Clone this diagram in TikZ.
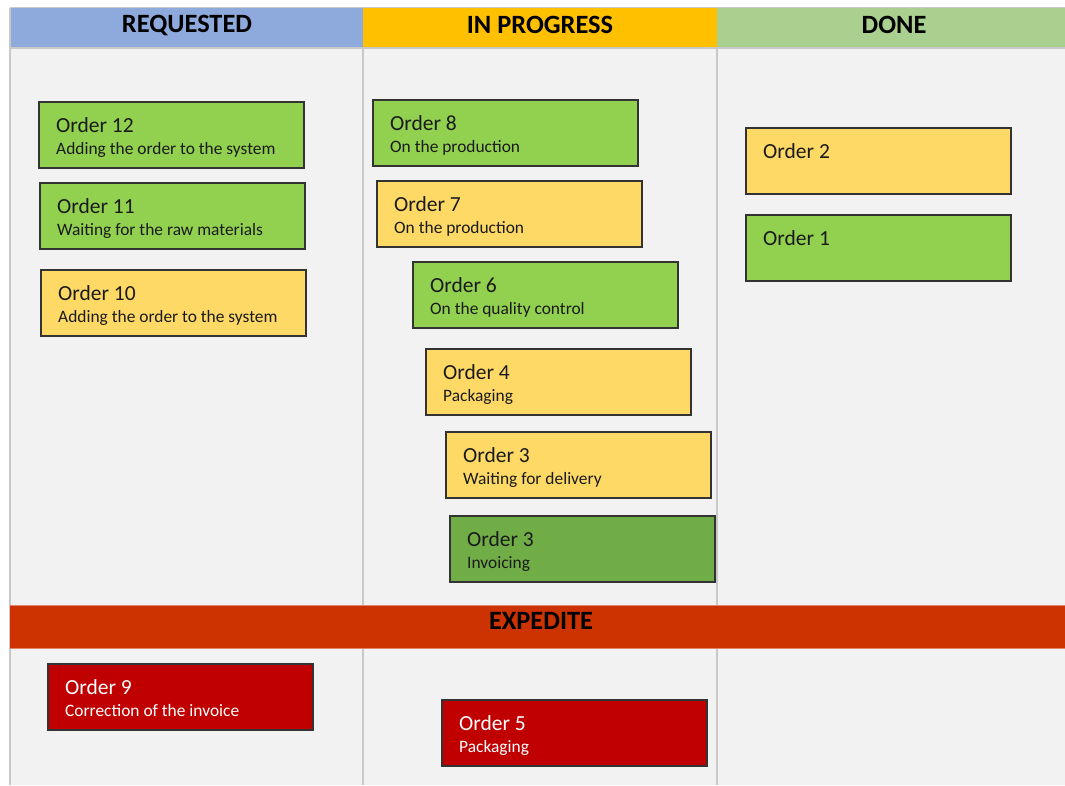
\documentclass[tikz,border=0pt]{standalone}
\usepackage{fontspec}
\setmainfont{Carlito}
\definecolor{panel}{HTML}{F2F2F2}
\definecolor{gridl}{HTML}{C8C8C8}
\definecolor{hblue}{HTML}{8EA9DB}
\definecolor{hyellow}{HTML}{FFC000}
\definecolor{hgreen}{HTML}{A9D08E}
\definecolor{hred}{HTML}{CC3300}
\definecolor{cgreen}{HTML}{92D050}
\definecolor{cdgreen}{HTML}{70AD47}
\definecolor{cyellow}{HTML}{FFD966}
\definecolor{cred}{HTML}{C00000}
\definecolor{cborder}{HTML}{333333}
\definecolor{ctext}{HTML}{1A1A1A}
\tikzset{
  cardbox/.style={draw=cborder, line width=1.1pt, rectangle, anchor=north west,
    minimum width=265pt, minimum height=66pt, inner sep=0pt, outer sep=0pt},
  cardtitle/.style={anchor=base west, inner sep=0pt, font=\fontsize{21.5}{23}\selectfont},
  cardsub/.style={anchor=base west, inner sep=0pt, font=\fontsize{17.4}{19}\selectfont},
  headtext/.style={font=\bfseries\fontsize{26.4}{28}\selectfont, inner sep=0pt},
  gridline/.style={draw=gridl, line width=1.2pt},
}
\newcommand{\mycard}[7]{%
  \node[cardbox, fill=#4] (#1) at (#2,#3) {};
  \node[cardtitle, text=#5] (#1t) at ($(#1.north west)+(17,30)$) {#6};
  \node[cardsub, text=#5] (#1s) at ($(#1.north west)+(17,52)$) {#7};
}
\usetikzlibrary{calc}
\begin{document}
\begin{tikzpicture}[x=1pt,y=-1pt]
\useasboundingbox (0,0) rectangle (1065,785);
\fill[white] (0,0) rectangle (1065,785);
% panel
\fill[panel] (10,8) rectangle (1065,785);
% headers
\fill[hblue] (10,8) rectangle (363,48);
\fill[hyellow] (363,8) rectangle (717,48);
\fill[hgreen] (717,8) rectangle (1065,48);
\draw[gridline] (10,7.5) -- (1065,7.5);
\draw[gridline] (10,48) -- (1065,48);
\draw[gridline] (10,7.5) -- (10,785);
\draw[gridline] (363,48) -- (363,785);
\draw[gridline] (717,48) -- (717,785);
% expedite bar
\fill[hred] (10,605) rectangle (1065,648);
\draw[draw=hred!60!white, line width=0.8pt] (10,605) -- (1065,605);
\draw[draw=hred!60!white, line width=0.8pt] (10,648) -- (1065,648);
\node[headtext] (hreq) at (187,25) {REQUESTED};
\node[headtext] (hprog) at (540,25) {IN PROGRESS};
\node[headtext] (hdone) at (894,25) {DONE};
\node[headtext] (hexp) at (541,621) {EXPEDITE};
% requested
\mycard{o12}{39}{102}{cgreen}{ctext}{Order 12}{Adding the order to the system}
\mycard{o11}{40}{183}{cgreen}{ctext}{Order 11}{Waiting for the raw materials}
\mycard{o10}{41}{270}{cyellow}{ctext}{Order 10}{Adding the order to the system}
% in progress
\mycard{o8}{373}{100}{cgreen}{ctext}{Order 8}{On the production}
\mycard{o7}{377}{181}{cyellow}{ctext}{Order 7}{On the production}
\mycard{o6}{413}{262}{cgreen}{ctext}{Order 6}{On the quality control}
\mycard{o4}{426}{349}{cyellow}{ctext}{Order 4}{Packaging}
\mycard{o3a}{446}{432}{cyellow}{ctext}{Order 3}{Waiting for delivery}
\mycard{o3b}{450}{516}{cdgreen}{ctext}{Order 3}{Invoicing}
% done
\mycard{o2}{746}{128}{cyellow}{ctext}{Order 2}{}
\mycard{o1}{746}{215}{cgreen}{ctext}{Order 1}{}
% expedite
\mycard{o9}{48}{664}{cred}{white}{Order 9}{Correction of the invoice}
\mycard{o5}{442}{700}{cred}{white}{Order 5}{Packaging}
\end{tikzpicture}
\end{document}
